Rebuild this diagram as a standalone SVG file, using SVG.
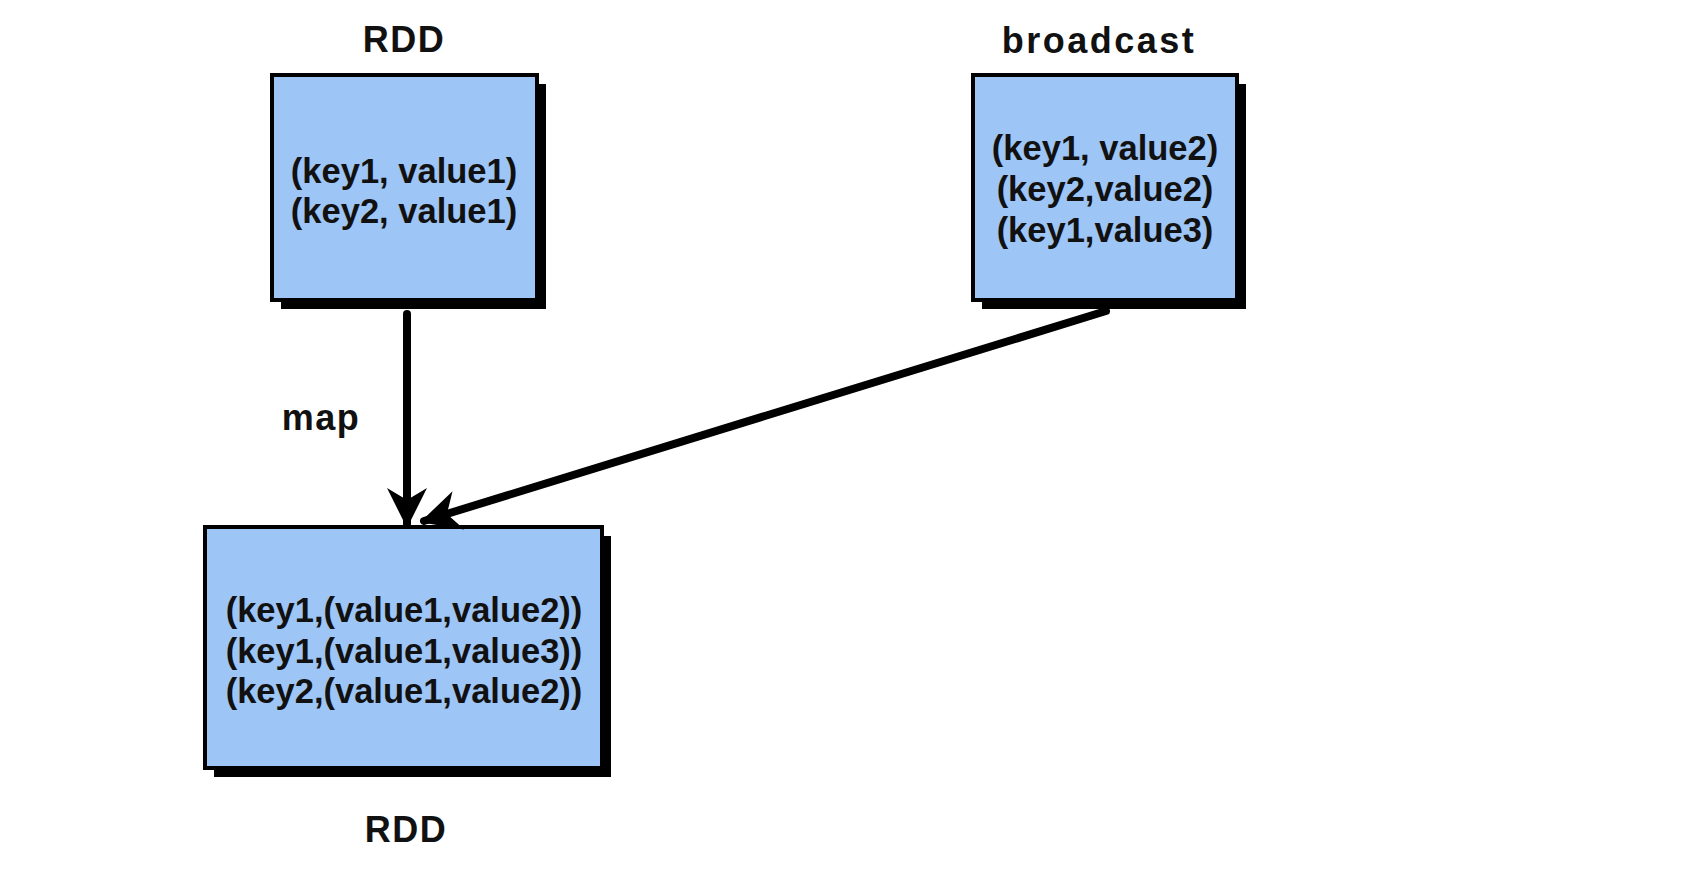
<svg xmlns="http://www.w3.org/2000/svg" width="1682" height="869" viewBox="0 0 1682 869">
  <style>
    .shadow { fill: #000; }
    .box { fill: #9dc5f6; stroke: #000; stroke-width: 4; }
    .txt { font-family: "Liberation Sans", Arial, sans-serif; font-weight: bold; font-size: 34.5px; fill: #111; text-anchor: middle; }
    .lbl { font-family: "Liberation Sans", Arial, sans-serif; font-weight: bold; font-size: 36px; letter-spacing: 1.5px; fill: #111; text-anchor: middle; }
    .edge { stroke: #000; stroke-width: 8; fill: none; stroke-linecap: round; }
  </style>
  <defs>
    <marker id="arrow" viewBox="0 0 10 10" refX="9" refY="5" markerWidth="5" markerHeight="5" markerUnits="strokeWidth" orient="auto">
      <path d="M0,0 L10,5 L0,10 L3,5 z" fill="#000"/>
    </marker>
  </defs>
  <rect width="1682" height="869" fill="#fff"/>

  <!-- source RDD -->
  <g id="rdd-source">
    <text class="lbl" x="404" y="52">RDD</text>
    <rect class="shadow" x="281" y="84" width="265" height="225"/>
    <rect class="box" x="272" y="75" width="265" height="225"/>
    <text class="txt" x="404" y="183">(key1, value1)</text>
    <text class="txt" x="404" y="223">(key2, value1)</text>
  </g>

  <!-- broadcast variable -->
  <g id="broadcast">
    <text class="lbl" x="1099" y="53" style="letter-spacing:2.5px">broadcast</text>
    <rect class="shadow" x="982" y="84" width="264" height="225"/>
    <rect class="box" x="973" y="75" width="264" height="225"/>
    <text class="txt" x="1105" y="160">(key1, value2)</text>
    <text class="txt" x="1105" y="201">(key2,value2)</text>
    <text class="txt" x="1105" y="242">(key1,value3)</text>
  </g>

  <!-- result RDD -->
  <g id="rdd-result">
    <rect class="shadow" x="214" y="536" width="397" height="241"/>
    <rect class="box" x="205" y="527" width="397" height="241"/>
    <text class="txt" x="404" y="622">(key1,(value1,value2))</text>
    <text class="txt" x="404" y="663">(key1,(value1,value3))</text>
    <text class="txt" x="404" y="703">(key2,(value1,value2))</text>
    <text class="lbl" x="406" y="842">RDD</text>
  </g>

  <!-- connectors -->
  <g id="connectors">
    <line class="edge" x1="407" y1="314" x2="407" y2="524" marker-end="url(#arrow)"/>
    <line class="edge" x1="1106" y1="311" x2="424" y2="521" marker-end="url(#arrow)"/>
    <text class="lbl" x="321" y="430">map</text>
  </g>
</svg>
